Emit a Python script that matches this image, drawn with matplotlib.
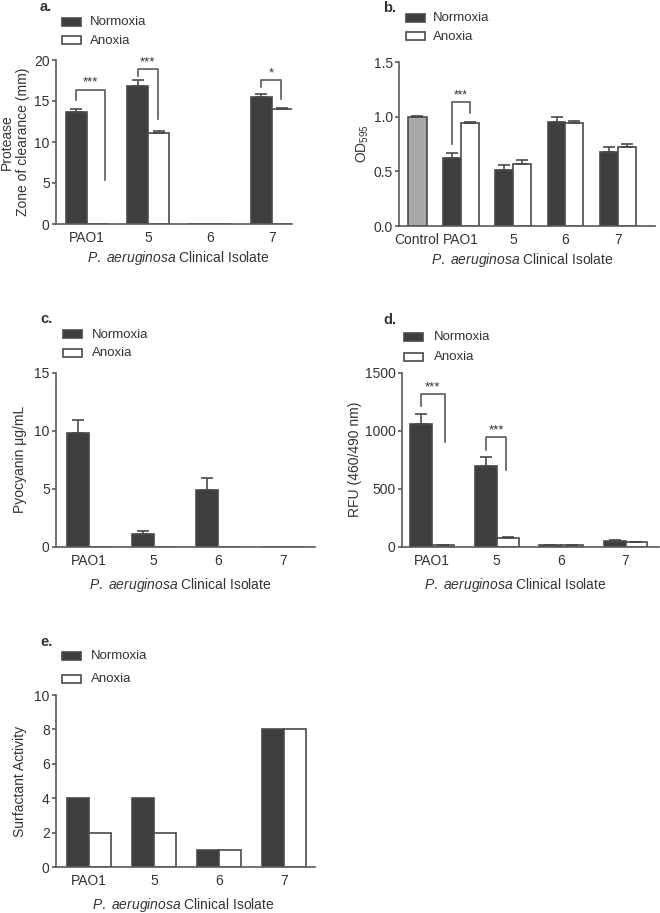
import matplotlib.pyplot as plt
import numpy as np
from matplotlib.patches import Rectangle

plt.rcParams.update({
    'font.family': ['Liberation Sans', 'DejaVu Sans'],
    'font.size': 9.5,
    'mathtext.fontset': 'custom',
    'mathtext.rm': 'Liberation Sans',
    'mathtext.it': 'Liberation Sans:italic',
    'text.color': '#333333',
    'axes.labelcolor': '#333333',
    'xtick.color': '#333333',
    'ytick.color': '#333333',
})

isolates = ["PAO1", "5", "6", "7"]

# a. protease, zone of clearance (mm)
protease_norm = [13.7, 16.8, 0, 15.5]
protease_norm_err = [0.3, 0.7, 0, 0.3]
protease_anox = [0, 11.1, 0, 14.0]
protease_anox_err = [0, 0.2, 0, 0.1]

# b. OD595
od_control = 1.0
od_control_err = 0.01
od_norm = [0.62, 0.51, 0.95, 0.68]
od_norm_err = [0.05, 0.05, 0.05, 0.04]
od_anox = [0.94, 0.57, 0.94, 0.72]
od_anox_err = [0.015, 0.035, 0.02, 0.03]

# c. pyocyanin ug/mL
pyo_norm = [9.8, 1.1, 4.9, 0]
pyo_norm_err = [1.15, 0.25, 1.0, 0]
pyo_anox = [0, 0, 0, 0]
pyo_anox_err = [0, 0, 0, 0]

# d. RFU (460/490 nm)
rfu_norm = [1055, 695, 15, 50]
rfu_norm_err = [90, 75, 3, 4]
rfu_anox = [15, 75, 15, 40]
rfu_anox_err = [3, 5, 2, 3]

# e. surfactant activity
surf_norm = [4, 4, 1, 8]
surf_anox = [2, 2, 1, 8]

# significance brackets: (isolate index, left leg y, top y, right leg y, stars, right leg offset)
sig_a = [(0, 15.1, 16.4, 5.4, "***", 0.30), (1, 18.0, 18.9, 12.8, "***", 0.15), (3, 16.7, 17.6, 15.2, "*", 0.15)]
sig_b = [(0, 0.75, 1.137, 1.03, "***", 0.17)]
sig_d = [(0, 1213, 1313, 905, "***", 0.19), (1, 833, 948, 661, "***", 0.15)]

DARK = '#3e3e3e'
EDGE = '#4a4a4a'
SPINE = '#5a5a5a'
W, H = 660, 913
BW = 0.34

fig = plt.figure(figsize=(W / 100, H / 100), dpi=100)


def px_axes(l, t, r, b):
    return fig.add_axes([l / W, 1 - b / H, (r - l) / W, (b - t) / H])


def style(ax, xlim, ylim, yticks, ylabel, ylab_x, xlab_x, xlab_y):
    ax.set_xlim(*xlim)
    ax.set_ylim(*ylim)
    ax.set_yticks(yticks)
    for s in ['top', 'right']:
        ax.spines[s].set_visible(False)
    for s in ['left', 'bottom']:
        ax.spines[s].set_color(SPINE)
        ax.spines[s].set_linewidth(1.2)
    ax.tick_params(axis='y', length=3, width=1.2, color=SPINE, pad=1.5, labelsize=10)
    ax.tick_params(axis='x', length=0, pad=5, labelsize=10)
    ax.set_ylabel(ylabel, fontsize=10)
    ax.yaxis.set_label_coords(ylab_x, 0.5)
    ax.yaxis.label.set_va('center')
    ax.set_xlabel(r"$\it{P.}$ $\it{aeruginosa}$ Clinical Isolate", fontsize=10)
    ax.xaxis.set_label_coords(xlab_x, xlab_y)
    ax.xaxis.label.set_va('center')


def bars(ax, norm, anox, norm_err=None, anox_err=None):
    x = np.arange(len(isolates))
    ax.bar(x - BW / 2, norm, BW, color=DARK, edgecolor=EDGE, linewidth=1.2)
    ax.bar(x + BW / 2, anox, BW, color='white', edgecolor=EDGE, linewidth=1.2)
    for xs, vals, errs in ((x - BW / 2, norm, norm_err), (x + BW / 2, anox, anox_err)):
        if errs is None:
            continue
        keep = [i for i, e in enumerate(errs) if e > 0]
        if keep:
            ax.errorbar(xs[keep], np.array(vals)[keep],
                        yerr=[np.zeros(len(keep)), np.array(errs)[keep]],
                        fmt='none', ecolor=EDGE, elinewidth=1.2, capsize=4, capthick=1.2)
    ax.set_xticks(x)
    ax.set_xticklabels(isolates)


def brackets(ax, sigs, fs=9.5):
    for i, yl, yt, yr, lab, ro in sigs:
        xl, xr = i - 0.17, i + ro
        ax.plot([xl, xl, xr, xr], [yl, yt, yt, yr], color=SPINE, lw=1.2, clip_on=False)
        ax.annotate(lab, xy=((xl + xr) / 2, yt), xytext=(0, 0.5), textcoords='offset points',
                    ha='center', va='bottom', fontsize=fs)


def legend(letter, lx, ly, px, yn, ya, tx):
    fig.text(lx / W, 1 - ly / H, letter, fontsize=10.5, fontweight='bold', va='center', ha='left')
    for yc, fc, lab in ((yn, DARK, "Normoxia"), (ya, 'white', "Anoxia")):
        fig.patches.append(Rectangle((px / W, 1 - (yc + 4) / H), 19 / W, 8 / H,
                                     transform=fig.transFigure, facecolor=fc,
                                     edgecolor=EDGE, linewidth=1.2))
        fig.text(tx / W, 1 - yc / H, lab, va='center', ha='left')


# a.
ax = px_axes(56, 60, 292, 224)
bars(ax, protease_norm, protease_anox, protease_norm_err, protease_anox_err)
brackets(ax, sig_a)
style(ax, (-0.5, 3.33), (0, 20), [0, 5, 10, 15, 20],
      "Protease\nZone of clearance (mm)", -0.174, 0.52, -0.207)
legend("a.", 40, 7, 62, 22, 40.5, 90)

# b.
ax = px_axes(399, 62, 655, 226)
ctrl_x = -0.834
ax.bar([ctrl_x], [od_control], 0.36, color='#a9a9a9', edgecolor=EDGE, linewidth=1.2)
ax.errorbar([ctrl_x], [od_control], yerr=[[0], [od_control_err]], fmt='none',
            ecolor=EDGE, elinewidth=1.2, capsize=4, capthick=1.2)
bars(ax, od_norm, od_anox, od_norm_err, od_anox_err)
ax.set_xticks([ctrl_x] + list(range(len(isolates))))
ax.set_xticklabels(["Control"] + isolates)
brackets(ax, sig_b, fs=8.5)
style(ax, (-1.18, 3.71), (0, 1.5), [0, 0.5, 1.0, 1.5],
      "OD$_{595}$", -0.14, 0.48, -0.207)
ax.set_yticklabels(["0.0", "0.5", "1.0", "1.5"])
legend("b.", 383, 8, 406, 18, 36.5, 433)

# c.
ax = px_axes(56, 372.7, 315, 546.7)
bars(ax, pyo_norm, pyo_anox, pyo_norm_err, pyo_anox_err)
style(ax, (-0.51, 3.5), (0, 15), [0, 5, 10, 15],
      "Pyocyanin μg/mL", -0.139, 0.48, -0.22)
legend("c.", 40, 319, 63, 334.5, 353, 92)

# d.
ax = px_axes(402, 372.7, 659, 546.7)
bars(ax, rfu_norm, rfu_anox, rfu_norm_err, rfu_anox_err)
brackets(ax, sig_d)
style(ax, (-0.47, 3.52), (0, 1500), [0, 500, 1000, 1500],
      "RFU (460/490 nm)", -0.183, 0.44, -0.22)
legend("d.", 383, 320, 404, 337.5, 357, 434)

# e.
ax = px_axes(56, 695, 315, 867)
bars(ax, surf_norm, surf_anox)
style(ax, (-0.51, 3.48), (0, 10), [0, 2, 4, 6, 8, 10],
      "Surfactant Activity", -0.139, 0.49, -0.22)
legend("e.", 40, 642, 62, 656, 679, 91)

fig.savefig("out.png", dpi=100)
